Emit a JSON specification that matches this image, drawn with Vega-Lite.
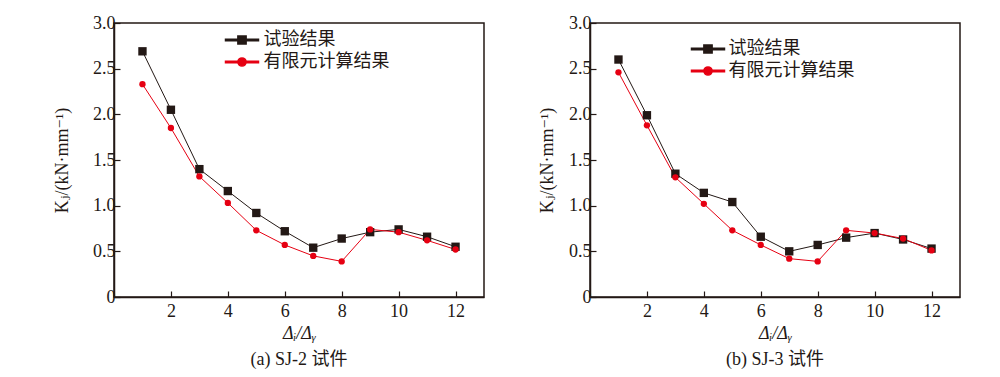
{
  "$schema": "https://vega.github.io/schema/vega-lite/v6.json",
  "background": "white",
  "padding": {"left": 52, "top": 13, "right": 5, "bottom": 5},
  "spacing": 52,
  "config": {
    "font": "Liberation Serif",
    "view": {"stroke": "#231815", "strokeWidth": 1.5},
    "axis": {
      "domainColor": "#231815", "domainWidth": 1.5,
      "tickColor": "#231815", "tickWidth": 1.2, "tickSize": -6,
      "labelColor": "#231815", "labelFont": "Liberation Serif", "labelFontSize": 18,
      "titleColor": "#231815", "titleFont": "'Liberation Serif', 'DejaVu Serif'", "titleFontSize": 18, "titleFontWeight": "normal",
      "grid": false
    },
    "legend": {
      "labelFont": "Noto Sans CJK SC", "labelFontSize": 18, "labelColor": "#231815",
      "padding": 0, "rowPadding": 4
    },
    "title": {"font": "'Liberation Serif', 'Noto Sans CJK SC'", "fontSize": 18, "fontWeight": "normal", "color": "#231815"}
  },
  "datasets": {
    "d": [
      {"p": "a", "s": "试验结果", "x": 1, "y": 2.69},
      {"p": "a", "s": "试验结果", "x": 2, "y": 2.05},
      {"p": "a", "s": "试验结果", "x": 3, "y": 1.40},
      {"p": "a", "s": "试验结果", "x": 4, "y": 1.16},
      {"p": "a", "s": "试验结果", "x": 5, "y": 0.92},
      {"p": "a", "s": "试验结果", "x": 6, "y": 0.72},
      {"p": "a", "s": "试验结果", "x": 7, "y": 0.54},
      {"p": "a", "s": "试验结果", "x": 8, "y": 0.64},
      {"p": "a", "s": "试验结果", "x": 9, "y": 0.71},
      {"p": "a", "s": "试验结果", "x": 10, "y": 0.74},
      {"p": "a", "s": "试验结果", "x": 11, "y": 0.66},
      {"p": "a", "s": "试验结果", "x": 12, "y": 0.55},
      {"p": "a", "s": "有限元计算结果", "x": 1, "y": 2.33},
      {"p": "a", "s": "有限元计算结果", "x": 2, "y": 1.85},
      {"p": "a", "s": "有限元计算结果", "x": 3, "y": 1.32},
      {"p": "a", "s": "有限元计算结果", "x": 4, "y": 1.03},
      {"p": "a", "s": "有限元计算结果", "x": 5, "y": 0.73},
      {"p": "a", "s": "有限元计算结果", "x": 6, "y": 0.57},
      {"p": "a", "s": "有限元计算结果", "x": 7, "y": 0.45},
      {"p": "a", "s": "有限元计算结果", "x": 8, "y": 0.39},
      {"p": "a", "s": "有限元计算结果", "x": 9, "y": 0.74},
      {"p": "a", "s": "有限元计算结果", "x": 10, "y": 0.71},
      {"p": "a", "s": "有限元计算结果", "x": 11, "y": 0.62},
      {"p": "a", "s": "有限元计算结果", "x": 12, "y": 0.52},
      {"p": "b", "s": "试验结果", "x": 1, "y": 2.60},
      {"p": "b", "s": "试验结果", "x": 2, "y": 1.99},
      {"p": "b", "s": "试验结果", "x": 3, "y": 1.35},
      {"p": "b", "s": "试验结果", "x": 4, "y": 1.14},
      {"p": "b", "s": "试验结果", "x": 5, "y": 1.04},
      {"p": "b", "s": "试验结果", "x": 6, "y": 0.66},
      {"p": "b", "s": "试验结果", "x": 7, "y": 0.50},
      {"p": "b", "s": "试验结果", "x": 8, "y": 0.57},
      {"p": "b", "s": "试验结果", "x": 9, "y": 0.65},
      {"p": "b", "s": "试验结果", "x": 10, "y": 0.70},
      {"p": "b", "s": "试验结果", "x": 11, "y": 0.63},
      {"p": "b", "s": "试验结果", "x": 12, "y": 0.53},
      {"p": "b", "s": "有限元计算结果", "x": 1, "y": 2.46},
      {"p": "b", "s": "有限元计算结果", "x": 2, "y": 1.88},
      {"p": "b", "s": "有限元计算结果", "x": 3, "y": 1.31},
      {"p": "b", "s": "有限元计算结果", "x": 4, "y": 1.02},
      {"p": "b", "s": "有限元计算结果", "x": 5, "y": 0.73},
      {"p": "b", "s": "有限元计算结果", "x": 6, "y": 0.57},
      {"p": "b", "s": "有限元计算结果", "x": 7, "y": 0.42},
      {"p": "b", "s": "有限元计算结果", "x": 8, "y": 0.39},
      {"p": "b", "s": "有限元计算结果", "x": 9, "y": 0.73},
      {"p": "b", "s": "有限元计算结果", "x": 10, "y": 0.70},
      {"p": "b", "s": "有限元计算结果", "x": 11, "y": 0.64},
      {"p": "b", "s": "有限元计算结果", "x": 12, "y": 0.51}
    ]
  },
  "resolve": {
    "scale": {"color": "independent", "shape": "independent"},
    "legend": {"color": "independent", "shape": "independent"}
  },
  "hconcat": [
    {
      "width": 370, "height": 274,
      "data": {"name": "d"},
      "transform": [{"filter": "datum.p == 'a'"}],
      "title": {"text": "(a) SJ-2 试件", "orient": "bottom", "frame": "group", "anchor": "middle", "offset": 9},
      "encoding": {
        "x": {"field": "x", "type": "quantitative", "scale": {"domain": [0, 13], "nice": false},
          "axis": {"values": [2, 4, 6, 8, 10, 12], "title": "Δᵢ/Δᵧ", "titleFontStyle": "italic", "labelPadding": 11, "titlePadding": 4}},
        "y": {"field": "y", "type": "quantitative", "scale": {"domain": [0, 3], "nice": false},
          "axis": {"values": [0, 0.5, 1, 1.5, 2, 2.5, 3], "labelExpr": "datum.value == 0 ? '0' : format(datum.value, '.1f')", "title": "Kⱼ/(kN·mm⁻¹)", "labelPadding": 5, "titlePadding": 21}},
        "color": {"field": "s", "type": "nominal", "scale": {"domain": ["试验结果", "有限元计算结果"], "range": ["#231815", "#e60012"]},
          "legend": {"title": null, "orient": "none", "legendX": 119, "legendY": 8, "symbolSize": 272, "labelOffset": 12.5, "symbolOpacity": 1}}
      },
      "layer": [
        {"mark": {"type": "line", "strokeWidth": 1}},
        {"transform": [{"filter": "datum.s == '试验结果'"}],
          "mark": {"type": "square", "size": 70, "opacity": 1}},
        {"transform": [{"filter": "datum.s == '有限元计算结果'"}],
          "mark": {"type": "circle", "size": 40, "opacity": 1}},
        {"mark": {"type": "point", "filled": true, "opacity": 0},
          "encoding": {
            "shape": {"field": "s", "type": "nominal", "scale": {"domain": ["试验结果", "有限元计算结果"], "range": ["M-2,-0.09H2V0.09H-2ZM-0.5,-0.5H0.5V0.5H-0.5Z", "M-2,-0.09H2V0.09H-2ZM0.5,0A0.5,0.5 0 1,1 -0.5,0A0.5,0.5 0 1,1 0.5,0Z"]},
              "legend": {"title": null, "orient": "none", "legendX": 119, "legendY": 8, "symbolSize": 272, "labelOffset": 12.5, "symbolOpacity": 1}}
          }}
      ]
    },
    {
      "width": 370, "height": 274,
      "data": {"name": "d"},
      "transform": [{"filter": "datum.p == 'b'"}],
      "title": {"text": "(b) SJ-3 试件", "orient": "bottom", "frame": "group", "anchor": "middle", "offset": 9},
      "encoding": {
        "x": {"field": "x", "type": "quantitative", "scale": {"domain": [0, 13], "nice": false},
          "axis": {"values": [2, 4, 6, 8, 10, 12], "title": "Δᵢ/Δᵧ", "titleFontStyle": "italic", "labelPadding": 11, "titlePadding": 4}},
        "y": {"field": "y", "type": "quantitative", "scale": {"domain": [0, 3], "nice": false},
          "axis": {"values": [0, 0.5, 1, 1.5, 2, 2.5, 3], "labelExpr": "datum.value == 0 ? '0' : format(datum.value, '.1f')", "title": "Kⱼ/(kN·mm⁻¹)", "labelPadding": 5, "titlePadding": 12}},
        "color": {"field": "s", "type": "nominal", "scale": {"domain": ["试验结果", "有限元计算结果"], "range": ["#231815", "#e60012"]},
          "legend": {"title": null, "orient": "none", "legendX": 109, "legendY": 17, "symbolSize": 272, "labelOffset": 11.5, "symbolOpacity": 1}}
      },
      "layer": [
        {"mark": {"type": "line", "strokeWidth": 1}},
        {"transform": [{"filter": "datum.s == '试验结果'"}],
          "mark": {"type": "square", "size": 70, "opacity": 1}},
        {"transform": [{"filter": "datum.s == '有限元计算结果'"}],
          "mark": {"type": "circle", "size": 40, "opacity": 1}},
        {"mark": {"type": "point", "filled": true, "opacity": 0},
          "encoding": {
            "shape": {"field": "s", "type": "nominal", "scale": {"domain": ["试验结果", "有限元计算结果"], "range": ["M-2,-0.09H2V0.09H-2ZM-0.5,-0.5H0.5V0.5H-0.5Z", "M-2,-0.09H2V0.09H-2ZM0.5,0A0.5,0.5 0 1,1 -0.5,0A0.5,0.5 0 1,1 0.5,0Z"]},
              "legend": {"title": null, "orient": "none", "legendX": 109, "legendY": 17, "symbolSize": 272, "labelOffset": 11.5, "symbolOpacity": 1}}
          }}
      ]
    }
  ]
}
